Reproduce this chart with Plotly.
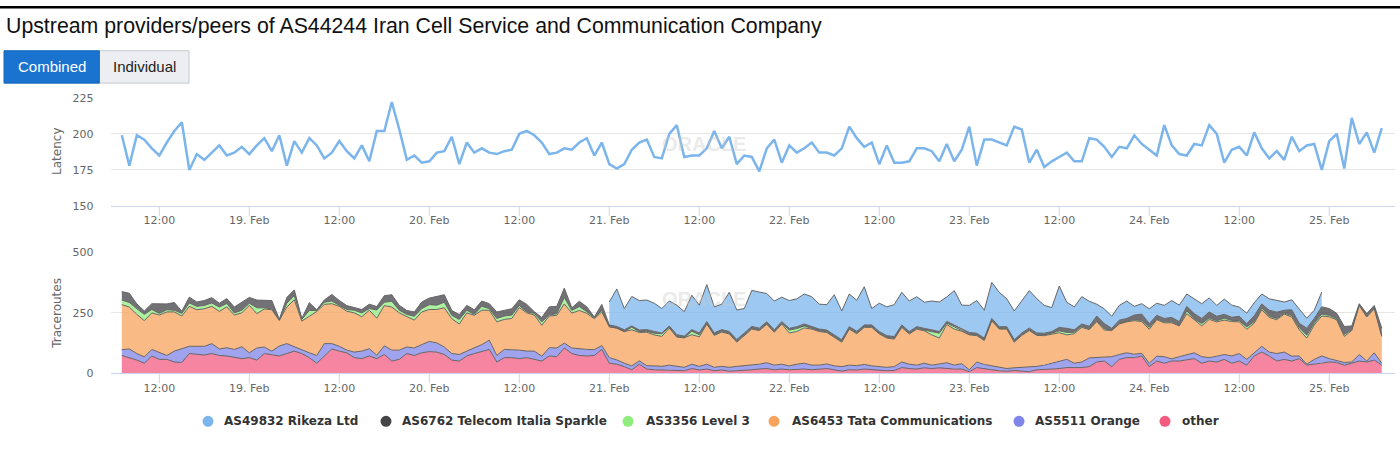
import numpy as np
import pandas as pd
import plotly.graph_objects as go

# ---------------- data ----------------
start_time = "2019-02-18 07:00"
n_points = 169
times = pd.date_range(start_time, periods=n_points, freq="h")

latency = [
    199, 178, 199, 196, 190, 185, 194, 202, 208, 175,
    186, 182, 187, 192, 185, 187, 191, 186, 192, 197,
    188, 199, 178, 195, 187, 197, 192, 183, 187, 195,
    188, 183, 192, 181, 202, 202, 222, 203, 182, 185,
    180, 181, 187, 188, 198, 179, 194, 187,
    190, 187, 186, 188, 189, 200, 202, 199, 194, 186,
    187, 190, 189, 194, 197, 185, 194, 179, 176, 179,
    189, 194, 196, 184, 183, 200, 206, 184, 185, 185,
    190, 202, 190, 198, 179, 185, 184, 174, 190, 196,
    180, 192, 187, 190, 194, 187, 187, 185, 190, 205,
    197, 191, 194, 179, 192, 180, 180, 181, 190, 190,
    188, 181,
    193, 181, 189, 205, 178, 196, 196, 194, 192, 205,
    203, 180, 189, 177, 181, 184, 187, 181, 181, 197,
    196, 191, 184, 191, 190, 199, 193, 189, 185, 206,
    192, 186, 185, 193, 192, 206, 200, 180, 189, 191,
    185, 201, 190, 183, 188, 182, 198, 188, 192, 193,
    175, 195, 200, 176, 211, 193, 201, 187, 204,
]

other = [
    74, 65, 55, 42, 72, 58, 58, 47, 45, 82, 78, 76, 82, 74, 72, 65, 61, 65, 55, 82,
    78, 72, 82, 92, 82, 65, 42, 72, 101, 92, 85, 65, 61, 72, 61, 78, 51, 58, 82, 74,
    85, 90, 88,
    78, 55, 51, 72, 82, 92, 99, 47, 65, 65, 61, 65, 58, 51, 72, 69, 105, 82, 74, 72,
    74, 99,
    42, 38, 28, 15, 38, 18, 15, 14, 15, 12, 11, 20, 14, 18, 11, 14, 9, 11, 12, 15,
    18, 20, 15, 18, 15, 18, 18, 15, 18, 20, 15, 9, 15, 14, 18, 15, 11, 11, 12, 24,
    20, 18, 23, 20, 23, 20, 18, 18, 7, 24, 18, 15, 11, 9, 12, 11, 7, 15, 15, 18,
    20, 24,
    24, 24, 28, 47, 51, 28, 58, 65, 65, 72, 28, 51, 42, 51, 51, 55, 61, 42, 51, 47,
    58, 42, 51, 34, 72, 88, 72, 51, 58, 51, 61, 34, 38, 45, 47, 45, 34, 42, 51, 47,
    55, 34,
]

orange = [
    24, 36, 27, 26, 27, 30, 16, 45, 57, 30, 34, 36, 41, 27, 34, 34, 49, 20, 50, 27,
    14, 41, 41, 18, 14, 20, 32, 51, 22, 20, 11, 23, 31, 30, 14, 36, 45, 38, 27, 31,
    34, 42, 38,
    31, 27, 27, 20, 23, 27, 38, 27, 34, 34, 35, 27, 34, 20, 34, 36, 20, 23, 27, 27,
    24, 16,
    23, 18, 14, 16, 14, 14, 16, 15, 19, 19, 14, 18, 15, 20, 14, 15, 16, 18, 19, 19,
    20, 24, 19, 20, 16, 20, 24, 19, 16, 19, 16, 19, 19, 18, 19, 16, 18, 14, 16, 23,
    18, 16, 19, 14, 16, 24, 16, 22, 8, 23, 19, 16, 12, 11, 11, 14, 19, 14, 19, 24,
    31, 34,
    18, 23, 36, 18, 15, 41, 20, 20, 14, 11, 14, 20, 27, 9, 18, 23, 24, 27, 14, 24,
    20, 30, 31, 24, 14, 24, 16, 31, 30, 20, 11, 4, 20, 27, 14, 7, 11, 5, 27, 4,
    30, 8,
]

tata = [
    186, 173, 162, 150, 151, 153, 180, 162, 135, 165, 151, 155, 154, 155, 169, 142, 140, 196, 142, 157,
    171, 106, 151, 194, 120, 151, 182, 162, 165, 165, 161, 162, 142, 159, 153, 166, 178, 154, 127, 115,
    135, 132, 138,
    162, 144, 126, 158, 135, 142, 124, 139, 124, 128, 176, 158, 149, 128, 131, 135, 162, 144, 159, 149,
    128, 139,
    128, 131, 131, 149, 117, 138, 128, 124, 153, 119, 122, 122, 122, 166, 132, 142, 138, 100, 126, 149,
    139, 159, 136, 166, 136, 135, 146, 149, 139, 130, 118, 101, 149, 132, 153, 159, 134, 121, 114, 143,
    125, 149, 134, 125, 107, 158, 149, 134, 144, 109, 99, 186, 160, 163, 106, 132, 151, 128, 122, 121,
    117, 101,
    122, 143, 117, 149, 113, 108, 126, 128, 139, 131, 140, 151, 140, 149, 127, 169, 135, 127, 158, 142,
    142, 142, 131, 124, 122, 151, 143, 140, 157, 162, 108, 108, 142, 165, 173, 169, 108, 130, 203, 182,
    182, 111,
]

level3 = [
    19, 19, 23, 26, 14, 7, 9, 7, 11, 14, 14, 14, 14, 18, 14, 9, 11, 9, 24, 5,
    4, 1, 16, 18, 7, 24, 4, 9, 11, 4, 7, 11, 16, 7, 34, 14, 24, 11, 8, 16,
    14, 20, 18,
    23, 14, 19, 11, 4, 16, 7, 14, 14, 14, 9, 4, 7, 14, 4, 7, 27, 11, 16, 7,
    4, 7,
    0, 0, 0, 11, 3, 4, 7, 11, 4, 3, 0, 14, 9, 3, 3, 3, 3, 4, 3, 4,
    3, 3, 3, 3, 12, 12, 8, 3, 3, 3, 3, 3, 3, 3, 3, 3, 3, 3, 3, 3,
    3, 3, 3, 14, 20, 6, 10, 6, 3, 3, 3, 3, 3, 3, 3, 3, 3, 3, 3, 3,
    8, 10,
    6, 5, 3, 4, 5, 2, 3, 3, 4, 5, 8, 3, 4, 4, 3, 12, 5, 10, 6, 5,
    8, 5, 5, 10, 6, 8, 6, 5, 4, 6, 9, 12, 8, 8, 6, 5, 8, 4, 2, 3,
    4, 4,
]

telecom = [
    35, 38, 20, 14, 24, 41, 24, 32, 9, 24, 18, 20, 22, 16, 20, 24, 34, 24, 32, 30,
    34, 4, 24, 23, 4, 32, 3, 9, 27, 20, 16, 11, 14, 18, 14, 27, 27, 20, 16, 18,
    27, 27, 36,
    31, 20, 20, 20, 19, 22, 20, 27, 24, 26, 23, 31, 7, 18, 34, 30, 38, 11, 22, 20,
    3, 24,
    7, 7, 7, 5, 7, 7, 7, 3, 5, 7, 7, 7, 7, 7, 7, 7, 7, 7, 7, 7,
    7, 7, 7, 7, 7, 8, 8, 7, 7, 7, 7, 7, 7, 7, 7, 7, 7, 7, 7, 7,
    7, 7, 7, 7, 7, 7, 7, 7, 7, 7, 7, 7, 7, 7, 7, 7, 7, 7, 7, 7,
    14, 17,
    10, 9, 11, 19, 22, 7, 13, 11, 19, 26, 16, 15, 14, 18, 15, 18, 22, 21, 25, 18,
    16, 13, 18, 14, 24, 16, 24, 26, 12, 24, 18, 29, 19, 30, 28, 22, 33, 15, 5, 11,
    10, 30,
]

rikeza = [None] * 65 + [
    95, 155, 88, 122, 122, 122, 117, 101, 103, 122, 101, 142, 115, 153, 108, 105, 162, 122, 101, 149,
    149, 117, 119, 101, 115, 115, 124, 124, 103, 105, 166, 119, 135, 128, 158, 68, 117, 119, 132, 135,
    126, 124, 108, 119, 122, 101, 142, 95, 112, 135, 115, 149, 142, 115, 119, 135, 155, 142, 115, 99,
    171, 108,
    95, 113, 103, 49, 61, 50, 61, 72, 36, 43, 61, 50, 54, 70, 68, 51, 61, 61, 58, 45,
    63, 50, 38, 43, 54, 41, 47, 47, 34, 41, 61, 41, 34, 61,
] + [None] * 8

series_names = ["AS49832 Rikeza Ltd", "AS6762 Telecom Italia Sparkle", "AS3356 Level 3",
                "AS6453 Tata Communications", "AS5511 Orange", "other"]
series_values = [rikeza, telecom, level3, tata, orange, other]
series_colors = ["#7cb5ec", "#434348", "#90ed7d", "#f7a35c", "#8085e9", "#f15c80"]

tick_vals = ["2019-02-18 12:00", "2019-02-19 00:00", "2019-02-19 12:00", "2019-02-20 00:00",
             "2019-02-20 12:00", "2019-02-21 00:00", "2019-02-21 12:00", "2019-02-22 00:00",
             "2019-02-22 12:00", "2019-02-23 00:00", "2019-02-23 12:00", "2019-02-24 00:00",
             "2019-02-24 12:00", "2019-02-25 00:00"]
tick_text = ["12:00", "19. Feb", "12:00", "20. Feb", "12:00", "21. Feb", "12:00", "22. Feb",
             "12:00", "23. Feb", "12:00", "24. Feb", "12:00", "25. Feb"]
x_range = ["2019-02-18 05:31", "2019-02-25 08:46"]

# ---------------- layout helpers ----------------
W, H = 1400, 476
def px(x):
    return x / W
def py(y):
    return 1 - y / H

def rgba(hex_color, a):
    h = hex_color.lstrip("#")
    r, g, b = int(h[0:2], 16), int(h[2:4], 16), int(h[4:6], 16)
    return f"rgba({r},{g},{b},{a})"

fig = go.Figure()

# latency line
fig.add_trace(go.Scatter(x=times, y=latency, mode="lines", name="Latency",
                         line=dict(color="#7cb5ec", width=2.5), xaxis="x", yaxis="y",
                         showlegend=False))

# stacked areas (bottom-up)
cum = np.zeros(n_points)
fills, lines = [], []
for name, vals, color in reversed(list(zip(series_names, series_values, series_colors))):
    v = np.array([np.nan if a is None else a for a in vals], dtype=float)
    mask = ~np.isnan(v)
    top = cum + np.nan_to_num(v)
    xs = list(times[mask]) + list(times[mask][::-1])
    ys = list(top[mask]) + list(cum[mask][::-1])
    fills.append(go.Scatter(x=xs, y=ys, fill="toself", fillcolor=rgba(color, 0.75),
                            mode="lines", line=dict(width=0), name=name,
                            xaxis="x2", yaxis="y2", showlegend=False, hoverinfo="skip"))
    lines.append(go.Scatter(x=times[mask], y=top[mask], mode="lines",
                            line=dict(color="#666666", width=1), name=name,
                            xaxis="x2", yaxis="y2", showlegend=False))
    cum = top
for t in fills + lines:
    fig.add_trace(t)

tickfont = dict(family="DejaVu Sans", size=11, color="#666666")
xcommon = dict(type="date", range=x_range, domain=[px(110.7), px(1395)],
               tickmode="array", tickvals=tick_vals, ticktext=tick_text,
               ticks="outside", ticklen=4, tickcolor="rgba(0,0,0,0)", tickwidth=1,
               showline=True, linecolor="#ccd6eb", linewidth=1, showgrid=False,
               zeroline=False, tickfont=tickfont, fixedrange=True)
ycommon = dict(showgrid=True, gridcolor="#e6e6e6", gridwidth=1, zeroline=False,
               showline=False, ticks="outside", ticklen=14, tickcolor="rgba(0,0,0,0)",
               tickfont=tickfont, fixedrange=True, tickmode="array")

fig.update_layout(
    width=W, height=H, margin=dict(l=0, r=0, t=0, b=0), autosize=False,
    paper_bgcolor="white", plot_bgcolor="white", showlegend=False,
    xaxis=dict(xcommon, anchor="y"),
    yaxis=dict(ycommon, domain=[py(205.7), py(94.3)], range=[150, 225],
               tickvals=[150, 175, 200, 225]),
    xaxis2=dict(xcommon, anchor="y2"),
    yaxis2=dict(ycommon, domain=[py(377.7), py(253.3)], range=[0, 500],
                tickvals=[0, 250, 500]),
)

shapes = []
annotations = []

# x-axis tick marks (10 px, Highcharts style)
for xa, ya in (("x", "y domain"), ("x2", "y2 domain")):
    for tv in tick_vals:
        shapes.append(dict(type="line", xref=xa, yref=ya, x0=tv, x1=tv,
                           ysizemode="pixel", yanchor=0, y0=-10, y1=0,
                           line=dict(color="#ccd6eb", width=1)))

# top black bar
shapes.append(dict(type="rect", xref="paper", yref="paper", x0=0, x1=1, y0=py(2.5), y1=1,
                   fillcolor="#000000", line=dict(width=0)))

# title
annotations.append(dict(text="Upstream providers/peers of AS44244 Iran Cell Service and Communication Company",
                        xref="paper", yref="paper", x=px(4), y=py(20.5), xanchor="left", yanchor="middle",
                        showarrow=False, font=dict(family="Liberation Sans", size=21.3, color="#111111")))

# buttons
shapes.append(dict(type="rect", xref="paper", yref="paper", x0=px(99.3), x1=px(189), y0=py(79.3), y1=py(46),
                   fillcolor="#eceef1", line=dict(color="#c6cacf", width=1)))
shapes.append(dict(type="rect", xref="paper", yref="paper", x0=px(4), x1=px(99.3), y0=py(79.3), y1=py(46),
                   fillcolor="#1a73cf", line=dict(color="#1766b8", width=1)))
annotations.append(dict(text="Combined", xref="paper", yref="paper", x=px(52), y=py(62.5),
                        xanchor="center", yanchor="middle", showarrow=False,
                        font=dict(family="Liberation Sans", size=15, color="#ffffff")))
annotations.append(dict(text="Individual", xref="paper", yref="paper", x=px(144), y=py(62.5),
                        xanchor="center", yanchor="middle", showarrow=False,
                        font=dict(family="Liberation Sans", size=15, color="#222222")))

# axis titles
annotations.append(dict(text="Latency", xref="paper", yref="paper", x=px(57.5), y=py(149.5),
                        xanchor="center", yanchor="middle", textangle=-90, showarrow=False,
                        font=dict(family="DejaVu Sans", size=12, color="#666666")))
annotations.append(dict(text="Traceroutes", xref="paper", yref="paper", x=px(57.5), y=py(316),
                        xanchor="center", yanchor="middle", textangle=-90, showarrow=False,
                        font=dict(family="DejaVu Sans", size=12, color="#666666")))

# watermarks
for wy in (142.3, 301.7):
    annotations.append(dict(text="ORACLE", xref="paper", yref="paper", x=px(704), y=py(wy),
                            xanchor="center", yanchor="middle", showarrow=False,
                            font=dict(family="Liberation Sans", size=20, color="rgba(200,200,200,0.4)",
                                      weight="bold")))

# legend (circle + label)
legend_circle_x = [208, 386, 628, 774, 1019, 1165]
legend_text_x = [222, 400, 644, 790, 1033, 1180]
legend_y = 427
for name, color, cx, tx in zip(series_names, series_colors, legend_circle_x, legend_text_x):
    shapes.append(dict(type="circle", xref="paper", yref="paper", xsizemode="pixel", ysizemode="pixel",
                       xanchor=px(cx), yanchor=py(legend_y), x0=-5.5, x1=5.5, y0=-5.5, y1=5.5,
                       fillcolor=color, line=dict(width=0)))
    annotations.append(dict(text=name, xref="paper", yref="paper", x=px(tx), y=py(legend_y),
                            xanchor="left", yanchor="middle", showarrow=False,
                            font=dict(family="DejaVu Sans", size=12, color="#333333", weight="bold")))

fig.update_layout(shapes=shapes, annotations=annotations)
fig.write_html("out.html",
               post_script="document.body.style.margin='0';document.body.style.padding='0';"
                           "document.body.style.overflow='hidden';")
